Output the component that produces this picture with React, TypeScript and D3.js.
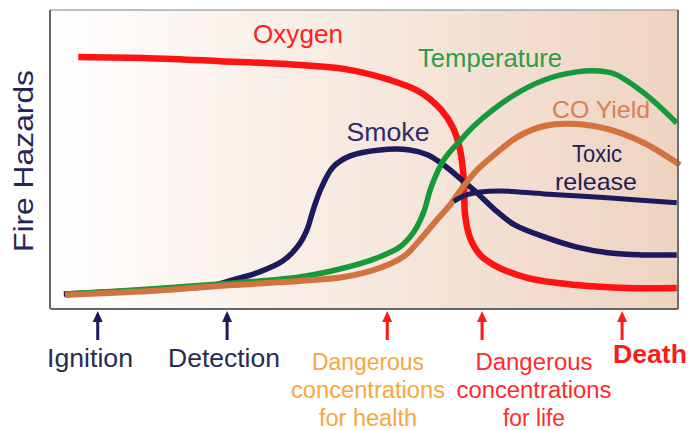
import React from 'react';
import * as d3 from 'd3';

const W = 688;
const H = 430;

// time runs 0..100 across the plot, hazard level 0..100 up the plot
const oxygen: [number, number][] = [
  [4.5, 84.3], [15.9, 83.9], [27.1, 82.9], [39.8, 81.6], [46.8, 80.3], [54.1, 76.6],
  [58.9, 72.6], [62.3, 66.6], [64.2, 60.5], [65.3, 53.2], [65.9, 43.1], [66.1, 31.4],
  [66.9, 23.7], [68.5, 18.1], [70.7, 14.7], [76.0, 10.4], [83.9, 8.0], [91.9, 7.0], [99.8, 7.0],
];
const smoke: [number, number][] = [
  [2.2, 5.0], [15.9, 6.4], [25.5, 7.7], [29.1, 9.7], [33.4, 12.4], [37.1, 16.1],
  [39.5, 21.1], [40.9, 26.4], [41.9, 33.1], [43.2, 40.5], [45.1, 47.5], [47.8, 51.2],
  [52.5, 53.2], [57.3, 53.2], [60.2, 51.5], [62.9, 47.8], [65.6, 43.1], [68.0, 38.8],
  [70.9, 33.1], [74.0, 28.1], [78.7, 24.1], [83.9, 20.7], [89.2, 18.7], [94.0, 18.1], [99.8, 18.1],
];
const temperature: [number, number][] = [
  [2.4, 5.0], [15.9, 6.7], [29.1, 8.7], [39.8, 10.7], [46.8, 13.7], [52.1, 17.1],
  [55.8, 20.9], [58.0, 26.0], [59.5, 32.4], [60.7, 40.8], [62.7, 49.8], [65.4, 56.5],
  [68.0, 62.2], [73.4, 70.9], [78.7, 76.6], [83.9, 79.3], [87.3, 79.6], [89.9, 78.6],
  [94.6, 72.2], [99.8, 62.2],
];
const coYield: [number, number][] = [
  [2.4, 4.7], [15.9, 6.0], [29.1, 8.0], [39.8, 9.4], [46.8, 10.7], [52.5, 13.7],
  [56.4, 17.7], [58.9, 23.1], [61.6, 29.8], [63.7, 34.8], [65.4, 39.8], [68.0, 46.5],
  [70.7, 51.5], [74.4, 57.5], [78.7, 61.2], [83.9, 61.9], [89.3, 59.9], [94.6, 55.5], [100.3, 48.2],
];
const toxicRelease: [number, number][] = [
  [64.3, 36.0], [66.1, 38.0], [68.5, 39.1], [71.7, 39.5], [78.7, 38.5], [89.3, 37.1], [99.8, 35.5],
];

const eventNames = ['Ignition', 'Detection', 'Dangerous concentrations for health', 'Dangerous concentrations for life', 'Death'];
const eventTimes = [7.6, 28.2, 53.7, 68.8, 91.1];

const x = d3.scaleLinear().domain([0, 100]).range([50, 678]);
const y = d3.scaleLinear().domain([0, 100]).range([309, 10]);

const line = d3.line<[number, number]>()
  .x(d => x(d[0]))
  .y(d => y(d[1]))
  .curve(d3.curveCatmullRom.alpha(0.5));

const series = [
  { key: 'oxygen', values: oxygen, color: '#ff1212', width: 6.5 },
  { key: 'smoke', values: smoke, color: '#1c1a5c', width: 5.5 },
  { key: 'temperature', values: temperature, color: '#16993a', width: 5.5 },
  { key: 'co', values: coYield, color: '#d2733f', width: 6 },
  { key: 'toxic', values: toxicRelease, color: '#1c1a5c', width: 5 },
];

// text labels: [text, x, baseline, color, size, width]
const curveLabels: [string, number, number, string, number, number][] = [
  ['Oxygen', 298, 43, '#ff2020', 25, 90],
  ['Temperature', 490, 67, '#2f9c45', 25, 144],
  ['CO Yield', 601, 118, '#d8804f', 24, 98],
  ['Smoke', 388, 141, '#2e2b6e', 25, 83],
  ['Toxic', 597, 162, '#1f1d52', 24, 50],
  ['release', 596, 190, '#1f1d52', 24, 82],
];

const eventColors = ['#1c1a5c', '#1c1a5c', '#ff1a1a', '#ff1a1a', '#ff1a1a'];
const eventTextColors = ['#2a2a55', '#2a2a55', '#f5a742', '#ff2a2a', '#ff1a1a'];
const eventLabelX = [90, 224, 368, 534, 650];
const eventLabelY = [367, 367, 370, 370, 363];
const eventLines = [
  [86],
  [112],
  [112, 154, 98],
  [117, 155, 62],
];

const font = '"Liberation Sans", Arial, Helvetica, sans-serif';

export default function App() {
  return (
    <svg width={W} height={H} style={{ position: 'absolute', left: 0, top: 0, background: '#fff' }} fontFamily={font}>
      <defs>
        <linearGradient id="bg" x1="0" x2="1" y1="0" y2="0">
          <stop offset="0%" stopColor="#ffffff" />
          <stop offset="45%" stopColor="#f8ebe2" />
          <stop offset="100%" stopColor="#eed3c2" />
        </linearGradient>
      </defs>
      <rect x={x(0)} y={y(100)} width={x(100) - x(0)} height={y(0) - y(100)} fill="url(#bg)" />

      {series.map(s => (
        <path key={s.key} d={line(s.values) || ''} fill="none" stroke={s.color}
          strokeWidth={s.width} strokeLinecap="butt" strokeLinejoin="round" />
      ))}

      {/* frame */}
      <line x1={x(0)} x2={x(100)} y1={y(100)} y2={y(100)} stroke="#a8a8a8" strokeWidth={1.5} />
      <line x1={x(100)} x2={x(100)} y1={y(100)} y2={y(0)} stroke="#6e6e6e" strokeWidth={2} />
      <path d={`M${x(0)},${y(100)} V${y(0) - 2} Q${x(0)},${y(0)} ${x(0) + 2},${y(0)} H${x(100)}`}
        fill="none" stroke="#666" strokeWidth={2} />

      {curveLabels.map(([t, lx, ly, c, fs, tw]) => (
        <text key={t} x={lx} y={ly} fill={c} fontSize={fs} textAnchor="middle"
          textLength={tw} lengthAdjust="spacingAndGlyphs">{t}</text>
      ))}

      <text transform="translate(33,161) rotate(-90)" fill="#262656" fontSize={27}
        textAnchor="middle" textLength={182} lengthAdjust="spacingAndGlyphs">Fire Hazards</text>

      {eventTimes.map((t, i) => {
        const ax = x(t);
        return (
          <g key={eventNames[i]} fill={eventColors[i]}>
            <rect x={ax - 1.5} y={318} width={3} height={22} />
            <path d={`M${ax},${311} L${ax + 5},${322} L${ax - 5},${322} Z`} />
          </g>
        );
      })}

      {eventNames.map((name, i) => {
        if (i === 4) {
          return (
            <text key={name} x={eventLabelX[i]} y={eventLabelY[i]} fill={eventTextColors[i]}
              fontSize={25} fontWeight="bold" textAnchor="middle" textLength={74}
              lengthAdjust="spacingAndGlyphs">{name}</text>
          );
        }
        const parts = i < 2 ? [name] : ['Dangerous', 'concentrations', i === 2 ? 'for health' : 'for life'];
        return (
          <text key={name} fill={eventTextColors[i]} fontSize={i < 2 ? 25 : 23} textAnchor="middle">
            {parts.map((p, j) => (
              <tspan key={p} x={eventLabelX[i]} y={eventLabelY[i] + j * 28}
                textLength={eventLines[i][j]} lengthAdjust="spacingAndGlyphs">{p}</tspan>
            ))}
          </text>
        );
      })}
    </svg>
  );
}
